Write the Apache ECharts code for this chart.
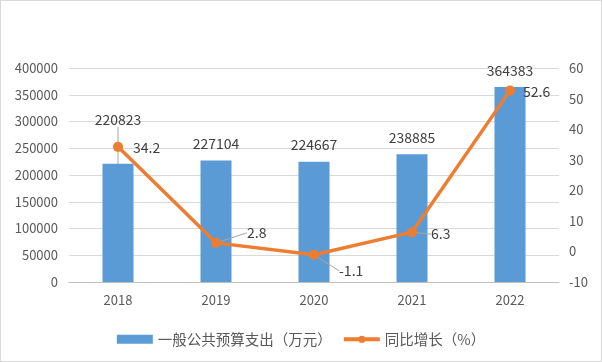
<!DOCTYPE html>
<html><head><meta charset="utf-8">
<script src="https://cdn.jsdelivr.net/npm/echarts@6/dist/echarts.min.js"></script>
<style>
html,body{margin:0;padding:0;background:#fff;}
#c{position:absolute;left:0;top:0;width:600px;height:360px;border:1px solid #d9d9d9;}
</style></head>
<body><div id="c"></div>
<script>
const categories = ['2018','2019','2020','2021','2022'];
const spending = [220823, 227104, 224667, 238885, 364383];
const growth = [34.2, 2.8, -1.1, 6.3, 52.6];
const seriesNames = ['一般公共预算支出（万元）','同比增长（%）'];

const font = '"Noto Sans CJK SC", "Noto Sans", sans-serif';
const chart = echarts.init(document.getElementById('c'));
const barShift = [{dx:0,dy:-32,line:true},{dx:0,dy:-5},{dx:0,dy:-5},{dx:0,dy:-5},{dx:0,dy:-4}];
const lineShift = [{dx:2,dy:1},{dx:18,dy:-10,line:true},{dx:12,dy:16,line:true},{dx:6,dy:2,line:true},{dx:0,dy:1}];
chart.setOption({
  animation:false,
  textStyle:{fontFamily:font},
  grid:{left:68,right:42,top:67,bottom:79},
  legend:{
    top:326,left:'center',itemGap:10,
    textStyle:{fontSize:14.5,color:'#595959',fontFamily:font},
    data:[{name:seriesNames[0],icon:'rect'},{name:seriesNames[1],lineStyle:{width:4}}],
    itemWidth:36,itemHeight:9
  },
  xAxis:{type:'category',data:categories,
    axisLine:{lineStyle:{color:'#bfbfbf'}},axisTick:{show:false},
    axisLabel:{color:'#595959',fontSize:13,margin:12}},
  yAxis:[
    {type:'value',min:0,max:400000,interval:50000,
     axisLine:{show:false},axisTick:{show:false},
     axisLabel:{color:'#595959',fontSize:13,margin:11,formatter:v=>String(v)},
     splitLine:{lineStyle:{color:'#d9d9d9'}}},
    {type:'value',min:-10,max:60,interval:10,
     axisLine:{show:false},axisTick:{show:false},
     axisLabel:{color:'#595959',fontSize:13,margin:10,formatter:v=>String(v)},
     splitLine:{show:false}}
  ],
  series:[
    {name:seriesNames[0],type:'bar',barWidth:31,yAxisIndex:0,
     itemStyle:{color:'#5B9BD5'},
     data:spending.map((v,i)=>({value:v,labelLine:{show:!!barShift[i].line}})),
     label:{show:true,position:'top',color:'#404040',fontSize:14},
     labelLine:{lineStyle:{color:'#a6a6a6',width:1}},
     labelLayout:p=>({dx:barShift[p.dataIndex].dx,dy:barShift[p.dataIndex].dy})
    },
    {name:seriesNames[1],type:'line',yAxisIndex:1,
     symbol:'circle',symbolSize:10,
     lineStyle:{color:'#ED7D31',width:3.5},
     itemStyle:{color:'#ED7D31'},
     data:growth.map((v,i)=>({value:v,labelLine:{show:!!lineShift[i].line}})),
     label:{show:true,position:'right',color:'#404040',fontSize:14,distance:8},
     labelLine:{lineStyle:{color:'#a6a6a6',width:1}},
     labelLayout:p=>({dx:lineShift[p.dataIndex].dx,dy:lineShift[p.dataIndex].dy})
    }
  ]
});
</script></body></html>
